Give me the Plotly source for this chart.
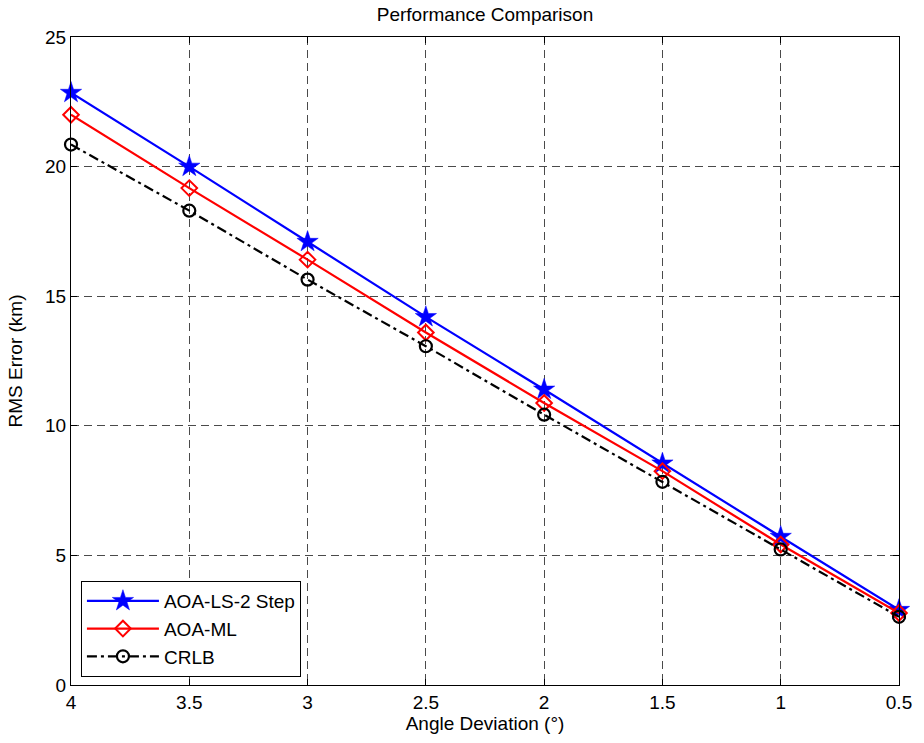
import plotly.graph_objects as go

angle_deviation = [4, 3.5, 3, 2.5, 2, 1.5, 1, 0.5]
aoa_ls_2step = [22.85, 20.0, 17.1, 14.2, 11.4, 8.55, 5.72, 2.9]
aoa_ml = [22.0, 19.17, 16.41, 13.6, 10.88, 8.25, 5.42, 2.78]
crlb = [20.85, 18.3, 15.64, 13.07, 10.43, 7.84, 5.23, 2.63]

x_ticks = [4, 3.5, 3, 2.5, 2, 1.5, 1, 0.5]
x_tick_labels = ["4", "3.5", "3", "2.5", "2", "1.5", "1", "0.5"]
y_ticks = [0, 5, 10, 15, 20, 25]

FONT = "Liberation Sans, Arial"

fig = go.Figure()
fig.add_trace(go.Scatter(
    x=angle_deviation, y=aoa_ls_2step, name="AOA-LS-2 Step",
    mode="lines+markers", cliponaxis=False,
    line=dict(color="#0000ff", width=2.2),
    marker=dict(symbol="star", size=16, color="#0000ff", line=dict(color="#0000ff", width=0.5)),
))
fig.add_trace(go.Scatter(
    x=angle_deviation, y=aoa_ml, name="AOA-ML",
    mode="lines+markers", cliponaxis=False,
    line=dict(color="#ff0000", width=2.2),
    marker=dict(symbol="diamond-open", size=12, color="#ff0000", line=dict(color="#ff0000", width=2)),
))
fig.add_trace(go.Scatter(
    x=angle_deviation, y=crlb, name="CRLB",
    mode="lines+markers", cliponaxis=False,
    line=dict(color="#000000", width=2.2, dash="10px,4px,3px,4px"),
    marker=dict(symbol="circle-open", size=12, color="#000000", line=dict(color="#000000", width=2.2)),
))

axis_common = dict(
    showline=True, linecolor="black", linewidth=1, mirror="ticks",
    ticks="inside", ticklen=6, tickcolor="black",
    showgrid=True, gridcolor="#4a4a4a", gridwidth=1, griddash="8px,5px",
    zeroline=False,
    tickfont=dict(family=FONT, size=19, color="black"),
    title_font=dict(family=FONT, size=19, color="black"),
)

fig.update_xaxes(
    range=[4, 0.5], tickvals=x_ticks, ticktext=x_tick_labels,
    title_text="Angle Deviation (°)", title_standoff=2, **axis_common,
)
fig.update_yaxes(
    range=[0, 25], tickvals=y_ticks,
    title_text="RMS Error (km)", title_standoff=17, **axis_common,
)

fig.update_layout(
    width=924, height=743,
    margin=dict(l=71, r=17, t=37, b=58),
    paper_bgcolor="white", plot_bgcolor="white",
    title=dict(text="Performance Comparison", x=0.5, xref="paper", xanchor="center",
               y=0.981, yanchor="middle",
               font=dict(family=FONT, size=19, color="black")),
    showlegend=True,
    legend=dict(
        x=0.012, y=0.0123, xanchor="left", yanchor="bottom",
        bordercolor="black", borderwidth=1, bgcolor="white",
        font=dict(family=FONT, size=19, color="black"),
        itemwidth=72, tracegroupgap=0,
    ),
)

fig.write_html("out.html", config={"displayModeBar": False},
               post_script="document.body.style.margin='0';")
